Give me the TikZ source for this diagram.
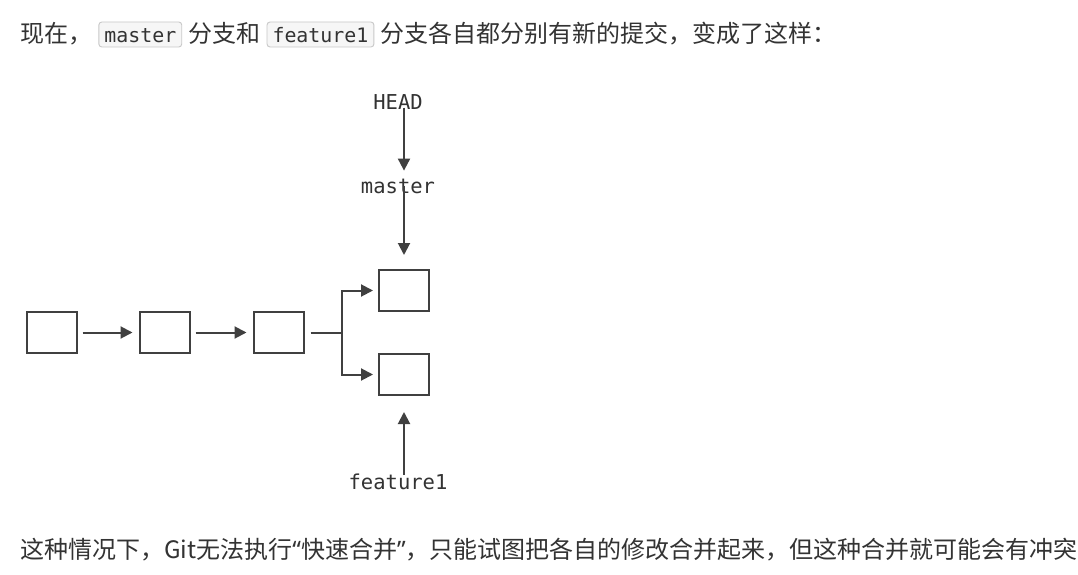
\documentclass[tikz,border=0pt]{standalone}
\usepackage{fontspec}
\usetikzlibrary{arrows.meta, positioning}
\newfontfamily\cjkfont{Noto Sans CJK SC}
\newfontfamily\quotefont{Noto Sans}
\newfontfamily\codefont{DejaVu Sans Mono}
\definecolor{inkgray}{RGB}{64,64,64}
\definecolor{textgray}{RGB}{51,51,51}
\definecolor{codeborder}{RGB}{200,200,200}
\definecolor{codefill}{RGB}{246,246,246}

\tikzset{
  prose/.style={inner sep=0pt, text=textgray, font=\cjkfont\fontsize{24}{29}\selectfont},
  inlinecode/.style={draw=codeborder, line width=0.9pt, fill=codefill, rounded corners=3pt, inner xsep=5.5pt, inner ysep=4pt, text height=17pt, text depth=0pt, text=textgray, font=\codefont\fontsize{19.9}{24}\selectfont},
  commit/.style={draw=inkgray, line width=2pt, minimum width=50pt, minimum height=41pt, inner sep=0pt},
  reflabel/.style={inner sep=0pt, text height=15pt, text depth=0pt, text=textgray, font=\codefont\fontsize{20.5}{24}\selectfont},
  link/.style={draw=inkgray, line width=2pt, -{Triangle[length=12pt,width=12pt]}},
}

\begin{document}
\begin{tikzpicture}[x=1pt, y=-1pt]
\fill[white] (0,0) rectangle (1078,575);
\useasboundingbox (0,0) rectangle (1078,575);

% intro sentence
\node[prose, anchor=base west] (intro1) at (20,43) {现在，};
\node[inlinecode, base right=6pt of intro1] (codemaster) {master};
\node[prose, base right=6pt of codemaster] (intro2) {分支和};
\node[inlinecode, base right=6pt of intro2] (codefeature) {feature1};
\node[prose, base right=6pt of codefeature] (intro3) {分支各自都分别有新的提交，变成了这样：};

% commits
\node[commit] (c1) at (51.5,332.5) {};
\node[commit, right=61pt of c1] (c2) {};
\node[commit, right=62pt of c2] (c3) {};
\node[commit] (c4) at (404,290.5) {};
\node[commit, below=41pt of c4] (c5) {};
\coordinate[right=37pt of c3] (fork);

\draw[link, shorten <=5pt, shorten >=6pt] (c1) -- (c2);
\draw[link, shorten <=5pt, shorten >=6pt] (c2) -- (c3);
\draw[draw=inkgray, line width=2pt, shorten <=6pt] (c3) -- (fork);
\draw[link, shorten >=5pt] (fork) |- (c4);
\draw[link, shorten >=5pt] (fork) |- (c5);

% branch pointers
\node[reflabel, above=75pt of c4, xshift=-6pt] (master) {master};
\node[reflabel, above=69pt of master] (head) {HEAD};
\node[reflabel, below=78pt of c5, xshift=-6pt] (feature) {feature1};

\draw[link, shorten <=-2pt, shorten >=8pt] (head.south -| c4) -- (master.north -| c4);
\draw[link, shorten >=14pt] (master.center -| c4) -- (c4);
\draw[link, shorten <=-1pt, shorten >=16pt] (feature.north -| c5) -- (c5);

% closing sentence
\node[prose, anchor=base west] (outro) at (20,558) {这种情况下，Git无法执行{\quotefont “}快速合并{\quotefont ”}，只能试图把各自的修改合并起来，但这种合并就可能会有冲突};
\end{tikzpicture}
\end{document}
